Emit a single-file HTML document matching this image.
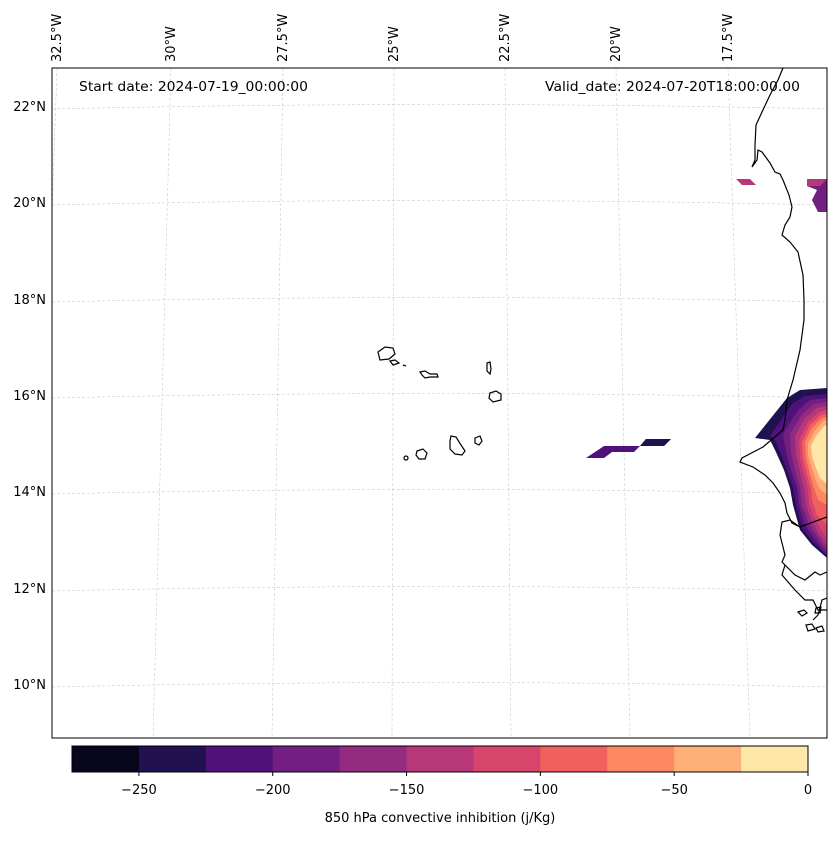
<!DOCTYPE html>
<html><head><meta charset="utf-8"><style>
body{margin:0;background:#fff;}
svg{font-family:"DejaVu Sans","Liberation Sans",sans-serif;}
</style></head><body>
<svg id="chart" width="837" height="836" viewBox="0 0 837 836">
<defs><clipPath id="mapclip"><rect x="52" y="68" width="775" height="670"/></clipPath></defs>
<rect width="837" height="836" fill="#fff"/>
<g id="grid" stroke="#ccc" stroke-width="0.6" stroke-dasharray="3,2" fill="none" clip-path="url(#mapclip)"></g>
<g id="fills" clip-path="url(#mapclip)">
 <polygon points="736,179 750,179 756,185 742,185" fill="#b73779"/>
 <polygon points="807,179 827,179 827,212 818,212 812,200 817,190 807,186" fill="#721f81"/>
 <polygon points="807,179 827,179 820,186 807,186" fill="#b73779"/>
 <polygon points="586,458 604,446 640,446 646,439 671,439 664,446 640,446 634,452 612,452 604,458" fill="#4f127b"/>
 <polygon points="640,446 646,439 671,439 664,446" fill="#221150"/>
 <polygon points="755,438 787,398 800,390 827,388 827,558 812,545 800,530 793,505 790,488 784,470 775,450 770,440" fill="#221150"/>
 <polygon points="770,436 792,404 805,396 827,394 827,556 814,543 802,528 796,505 793,488 787,470 780,452 775,440" fill="#4f127b"/>
 <polygon points="783,434 798,410 810,400 827,398 827,554 816,541 805,525 799,505 797,488 791,470 786,452" fill="#721f81"/>
 <polygon points="790,434 802,414 814,404 827,402 827,551 818,538 808,522 802,505 800,488 795,470 791,452" fill="#932b80"/>
 <polygon points="795,436 805,418 817,408 827,406 827,546 819,534 811,520 806,505 804,490 800,472 796,455" fill="#b73779"/>
 <polygon points="799,440 808,422 819,412 827,410 827,538 820,528 813,516 809,503 808,490 804,474 800,458" fill="#d8456c"/>
 <polygon points="802,442 810,425 821,415 827,414 827,525 817,515 812,500 811,488 807,474 803,458" fill="#f1605d"/>
 <polygon points="805,442 812,428 822,418 827,417 827,505 818,500 814,488 810,474 806,458" fill="#fc8961"/>
 <polygon points="808,444 814,432 823,421 827,420 827,495 819,488 815,478 811,465 808,455" fill="#feb078"/>
 <polygon points="811,446 816,436 824,426 827,425 827,484 820,478 816,468 812,456" fill="#fde7a9"/>
</g>
<g id="coast" fill="none" stroke="#000" stroke-width="1.2" clip-path="url(#mapclip)">
 <polyline points="783,68 778,80 770,95 762,112 756,125 755,145 755,160 752,167 757,160 758,150 762,152 770,163 775,172 780,174 783,180 789,195 792,207 790,217 785,225 782,235 790,242 798,252 803,275 804,300 804,320 800,350 793,380 787,400 785,420 783,430 763,447 742,458 740,462 753,467 765,475 773,483 780,493 785,503 787,513 792,523 800,527 827,517"/>
 <polyline points="800,527 790,520 782,522 780,535 785,555 782,562 795,575 805,580 815,572 820,575 827,572"/>
 <polyline points="785,565 782,575 795,590 805,600 813,600 818,610 827,610"/>
 <polyline points="813,620 818,615 822,600 827,598"/>
 <path d="M798,612 l6,-2 l3,3 l-5,3z M816,608 l5,-1 l-1,6 l-5,0z M806,625 l6,-1 l3,5 l-7,2z M816,628 l6,-2 l2,5 l-6,1z"/>
 <path d="M378,352 l7,-5 l8,1 l2,6 l-6,5 l-9,1z"/>
 <path d="M390,361 l5,-1 l4,3 l-6,2z"/>
 <path d="M403,365 l3,1" />
 <path d="M420,372 l5,-1 l5,3 l7,0 l1,3 l-8,0 l-5,1 l-3,-3z"/>
 <path d="M487,363 l3,-1 l1,7 l-1,5 l-3,-3z"/>
 <path d="M490,393 l6,-2 l5,3 l0,6 l-8,2 l-4,-4z"/>
 <path d="M475,438 l5,-2 l2,5 l-3,4 l-4,-2z"/>
 <path d="M451,436 l5,1 l5,8 l4,6 l-3,4 l-7,-1 l-5,-5 l0,-8z"/>
 <path d="M417,451 l6,-2 l4,4 l-2,6 l-6,0 l-3,-4z"/>
 <ellipse cx="406" cy="458" rx="2" ry="2"/>
</g>
<rect x="52" y="68" width="775" height="670" fill="none" stroke="#000" stroke-width="1"/>
<g id="lonlabels" font-size="13"></g>
<g id="latlabels" font-size="13"></g>
<text x="79" y="91" font-size="13" textLength="229" lengthAdjust="spacingAndGlyphs">Start date: 2024-07-19_00:00:00</text>
<text x="545" y="91" font-size="13" textLength="255" lengthAdjust="spacingAndGlyphs">Valid_date: 2024-07-20T18:00:00.00</text>
<g id="cbar"></g>
<text x="440" y="822" font-size="13" text-anchor="middle">850 hPa convective inhibition (j/Kg)</text>
</svg>
<script>
const lonLabels=["32.5°W","30°W","27.5°W","25°W","22.5°W","20°W","17.5°W"];
const lonTopX=[57,171,283,394,505,616,728];
const lonBotX=[34,153,272,392,511,630,750];
const latLabels=["22°N","20°N","18°N","16°N","14°N","12°N","10°N"];
const latY=[106,202,299,395,491,588,684];
const cbLevels=[-275,-250,-225,-200,-175,-150,-125,-100,-75,-50,-25,0];
const cbColors=["#07061c","#221150","#4f127b","#721f81","#932b80","#b73779","#d8456c","#f1605d","#fc8961","#feb078","#fde7a9"];
const cbTicks=[-250,-200,-150,-100,-50,0];
const NS="http://www.w3.org/2000/svg";
function mk(tag,attrs,parent){const e=document.createElementNS(NS,tag);for(const k in attrs)e.setAttribute(k,attrs[k]);parent.appendChild(e);return e;}
const grid=document.getElementById('grid');
latY.forEach((y,i)=>{
 const l=mk('path',{d:`M52,${y+3} Q440,${y-6} 827,${y+3}`},grid);
 
 
});
lonTopX.forEach((x,i)=>{
 const l=mk('line',{x1:x,y1:68,x2:lonBotX[i],y2:738},grid);
 
 
});
const lg=document.getElementById('lonlabels');
lonLabels.forEach((t,i)=>{
 const x=lonTopX[i]+4;
 const e=mk('text',{x:0,y:0,transform:`translate(${x},62) rotate(-90)`},lg);
 e.textContent=t;
 
 
});
const tg=document.getElementById('latlabels');
latLabels.forEach((t,i)=>{
 const e=mk('text',{x:46,y:latY[i]+5,'text-anchor':'end'},tg);
 e.textContent=t;
 
 
});
const cb=document.getElementById('cbar');
const cx0=72,cx1=808,cy=746,ch=26;
const xs=v=>cx0+(v-cbLevels[0])/(cbLevels[cbLevels.length-1]-cbLevels[0])*(cx1-cx0);
cbColors.forEach((c,i)=>{
 const r=mk('rect',{x:xs(cbLevels[i]),y:cy,width:xs(cbLevels[i+1])-xs(cbLevels[i])+0.5,height:ch,fill:c},cb);
 
 
});
mk('rect',{x:cx0,y:cy,width:cx1-cx0,height:ch,fill:'none',stroke:'#000','stroke-width':1},cb);
cbTicks.forEach(v=>{
 mk('line',{x1:xs(v),y1:cy+ch,x2:xs(v),y2:cy+ch+4,stroke:'#000'},cb);
 const t=mk('text',{x:xs(v),y:794,'font-size':13,'text-anchor':'middle'},cb);
 t.textContent=v<0?'\u2212'+Math.abs(v):String(v);
 
 
});
</script>
</body></html>
